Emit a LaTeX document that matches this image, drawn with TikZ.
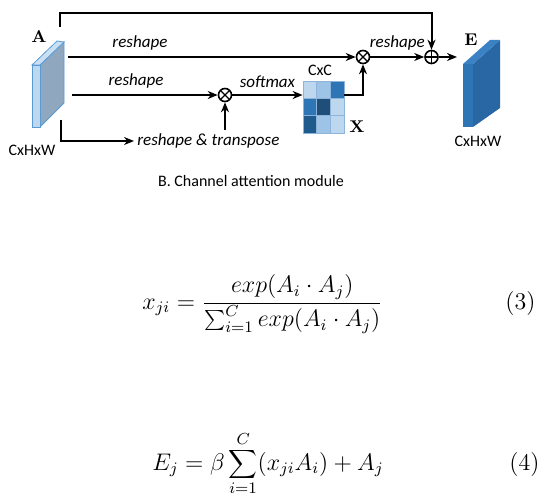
\documentclass[tikz,border=0pt]{standalone}
\usepackage{fontspec}
\newfontfamily\diafont{Carlito}
\usetikzlibrary{arrows.meta}

\definecolor{aFront}{HTML}{BDD7EE}
\definecolor{aTopc}{HTML}{C9E0F4}
\definecolor{aSide}{HTML}{8FA8C0}
\definecolor{aEdge}{HTML}{5B9BD5}
\definecolor{eFront}{HTML}{2E75B6}
\definecolor{eTopc}{HTML}{3A82C4}
\definecolor{eSide}{HTML}{2867A4}
\definecolor{cellA}{HTML}{BDD7EE}
\definecolor{cellB}{HTML}{9DC3E6}
\definecolor{cellC}{HTML}{2E75B6}
\definecolor{cellD}{HTML}{1F4E79}
\definecolor{cellE}{HTML}{1F5A8C}
\definecolor{grid}{HTML}{8FB4DA}

\tikzset{
	line/.style={black, line width=1pt},
	conn/.style={line, -{Stealth[length=5pt,width=4pt]}},
	opsym/.style={circle, draw, line width=0.8pt, minimum size=6.5pt, inner sep=0pt},
	otimes/.style={opsym, path picture={\draw[line width=0.6pt] (path picture bounding box.north west) -- (path picture bounding box.south east) (path picture bounding box.south west) -- (path picture bounding box.north east);}},
	oplus/.style={opsym, path picture={\draw[line width=0.6pt] (path picture bounding box.north) -- (path picture bounding box.south) (path picture bounding box.west) -- (path picture bounding box.east);}},
	lbl/.style={font=\diafont\itshape\fontsize{8.5}{10}\selectfont, inner sep=1pt},
	dim/.style={font=\diafont\fontsize{8}{10}\selectfont, inner sep=0pt},
	tag/.style={font=\bfseries\fontsize{8.5}{10}\selectfont, inner sep=0pt},
	eq/.style={font=\fontsize{12}{14}\selectfont, inner sep=0pt, anchor=base}
}

\begin{document}
\begin{tikzpicture}[x=0.5pt,y=-0.5pt]
\useasboundingbox (0,0) rectangle (549,501);

% input feature A
\filldraw[fill=aSide, draw=aEdge, line width=0.4pt] (40,65) -- (64,42) -- (64,103) -- (40,127) -- cycle;
\filldraw[fill=aTopc, draw=aEdge, line width=0.4pt] (32,65) -- (57,41) -- (64,42) -- (40,65) -- cycle;
\filldraw[fill=aFront, draw=aEdge, line width=0.4pt] (32,65) rectangle (40,127);
\node (tagA) at (39,37) [tag] {A};
\node (dimA) at (32,150) [dim] {CxHxW};

% output feature E
\fill[eSide] (473,64) -- (500,40) -- (500,108) -- (473,127) -- cycle;
\fill[eTopc] (463,64) -- (490,40) -- (500,40) -- (473,64) -- cycle;
\fill[eFront] (463,64) rectangle (473,127);
\node (tagE) at (471,40) [tag] {E};
\node (dimE) at (478,141) [dim] {CxHxW};

% attention map X
\foreach \i/\j/\c in {0/0/cellA, 1/0/cellB, 2/0/cellC, 0/1/cellC, 1/1/cellD, 2/1/cellA, 0/2/cellE, 1/2/cellB, 2/2/cellA}
	\filldraw[fill=\c, draw=grid, line width=0.4pt] ({303+13.67*\i},{81+17.33*\j}) rectangle ++(13.67,17.33);
\node (matX) at (323.5,107) [minimum width=20.5pt, minimum height=26pt, inner sep=0pt] {};
\node (tagX) at (357,127) [tag] {X};
\node (dimX) at (320,70) [dim] {CxC};

\coordinate (aSkip) at (60,27);
\coordinate (aRow1) at (68,57);
\coordinate (aRow2) at (72,95);
\coordinate (aRow3) at (60.5,120);
\coordinate (eIn) at (457,57);

\node (otA) at (363,57) [otimes] {};
\node (opE) at (431.5,57) [oplus] {};
\node (otB) at (225,95) [otimes] {};
\node (transp) at (134,141) [lbl, anchor=west, inner sep=1.5pt] {reshape \& transpose};

\draw[conn] (aSkip) -- ++(0,-14) -| (opE);
\draw[conn] (aRow1) -- node[lbl, pos=0.25, above=2pt] {reshape} (otA);
\draw[conn] (otA) -- node[lbl, midway, above=2pt] {reshape} (opE);
\draw[conn] (opE) -- (eIn);
\draw[conn] (aRow2) -- node[lbl, pos=0.44, above=2pt] {reshape} (otB);
\draw[conn] (otB) -- node[lbl, midway, above=2pt] {softmax} (otB -| matX.west);
\draw[conn] (matX.east |- otB) -| (otA);
\draw[conn] (aRow3) |- (transp.west);
\draw[conn] (transp.north -| otB) -- (otB);

\node (capB) at (251,181) [dim] {B. Channel attention module};

% equations
\node (eqX) at (262.5,309) [eq] {$\displaystyle x_{ji}=\frac{exp(A_i\cdot A_j)}{\sum_{i=1}^{C} exp(A_i\cdot A_j)}$};
\node (numX) at (520.5,309) [eq] {(3)};
\node (eqE) at (268,470) [eq] {$\displaystyle E_j=\beta\sum_{i=1}^{C}(x_{ji}A_i)+A_j$};
\node (numE) at (524.5,470) [eq] {(4)};
\end{tikzpicture}
\end{document}
